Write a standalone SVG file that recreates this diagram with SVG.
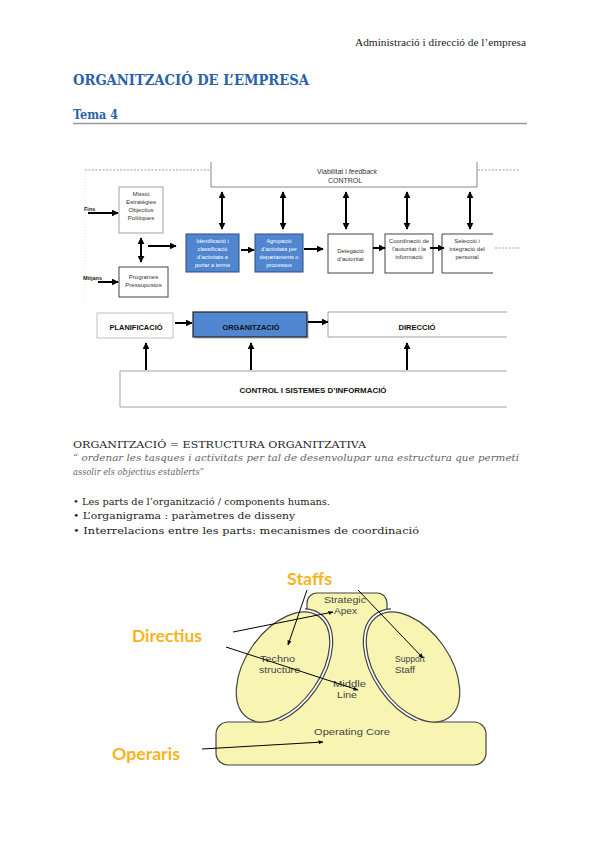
<svg xmlns="http://www.w3.org/2000/svg" width="599" height="848" viewBox="0 0 599 848">
<style>
.hdr{font-family:"Liberation Serif","Times New Roman",serif;font-size:10.5px;fill:#222}
.ttl{font-family:"DejaVu Serif","Liberation Serif",serif;font-weight:bold;fill:#2a62a8}
.body{font-family:"DejaVu Serif","Liberation Serif",serif;font-size:10px;fill:#222}
.quote{font-family:"DejaVu Serif","Liberation Serif",serif;font-size:9px;font-style:italic;fill:#666}
.t6{font-family:"Liberation Sans",Arial,sans-serif;font-size:6px;fill:#333;text-anchor:middle}
.t6w{font-family:"Liberation Sans",Arial,sans-serif;font-size:5.6px;fill:#fff;text-anchor:middle}
.t7{font-family:"Liberation Sans",Arial,sans-serif;font-size:7px;fill:#333;text-anchor:middle}
.lb{font-family:"Liberation Sans",Arial,sans-serif;font-weight:bold;font-size:7px;fill:#111;text-anchor:middle}
.sm{font-family:"Liberation Sans",Arial,sans-serif;font-weight:bold;font-size:5.5px;fill:#222}
.box{fill:#fff;stroke:#999;stroke-width:0.9}
.boxd{fill:#fff;stroke:#444;stroke-width:1}
.blue{fill:#4f86cf;stroke:#2b4f80;stroke-width:1}
.arr{stroke:#000;stroke-width:2;fill:none}
.dash{stroke:#888;stroke-width:0.8;stroke-dasharray:2 1.5;fill:none}
.dg{font-family:"Liberation Sans",Arial,sans-serif;font-size:9px;fill:#444}
.yel{fill:#f8f5b2;stroke:#444;stroke-width:1.2}
.big{font-family:Lato,"Open Sans",sans-serif;font-weight:bold;font-size:17px;fill:#f6b41c}
.thin{stroke:#000;stroke-width:1;fill:none}
</style>
<defs>
<marker id="ah" viewBox="0 0 10 10" refX="9" refY="5" markerWidth="3.5" markerHeight="3.5" orient="auto-start-reverse"><path d="M0,0L10,5L0,10z" fill="#000"/></marker>
<marker id="ah2" viewBox="0 0 10 10" refX="9" refY="5" markerWidth="5" markerHeight="5" orient="auto"><path d="M0,1L10,5L0,9z" fill="#000"/></marker>
<clipPath id="mid"><polygon points="283,667 305,612 305,588 391,588 391,612 413,667 435,721 261,721"/></clipPath>
</defs>
<rect width="599" height="848" fill="#fff"/>

<g id="header">
<text class="hdr" x="355" y="46" textLength="171" lengthAdjust="spacingAndGlyphs">Administració i direcció de l’empresa</text>
<text class="ttl" x="73" y="85" font-size="14" textLength="236" lengthAdjust="spacingAndGlyphs">ORGANITZACIÓ DE L’EMPRESA</text>
<text class="ttl" x="73" y="119" font-size="12" textLength="45" lengthAdjust="spacingAndGlyphs">Tema 4</text>
<line x1="73" y1="123.5" x2="527" y2="123.5" stroke="#999" stroke-width="1.5"/>
</g>

<g id="frame-top">
<line class="dash" x1="85" y1="170" x2="211" y2="170"/>
<line class="dash" x1="478" y1="170" x2="520" y2="170"/>
<line x1="85" y1="173" x2="85" y2="300" stroke="#ddd" stroke-width="0.8" stroke-dasharray="1 2"/>
</g>

<g id="control-top">
<path d="M211,162V187H477V162" fill="none" stroke="#888" stroke-width="1"/>
<text class="t7" x="347" y="174">Viabilitat i <tspan font-style="italic">feedback</tspan></text>
<text class="t7" x="345" y="183">CONTROL</text>
</g>

<g id="missio">
<rect class="box" x="119" y="187" width="44" height="46"/>
<text class="t6" x="141" y="196">Missió</text>
<text class="t6" x="141" y="204">Estratègies</text>
<text class="t6" x="141" y="212">Objectius</text>
<text class="t6" x="141" y="220">Polítiques</text>
</g>
<g id="fins"><text class="sm" x="84" y="211">Fins</text></g>
<g id="mitjans"><text class="sm" x="83" y="280">Mitjans</text></g>
<g id="programes">
<rect class="boxd" x="119" y="267" width="49" height="30"/>
<text class="t6" x="143.5" y="279">Programes</text>
<text class="t6" x="143.5" y="287">Pressupostos</text>
</g>

<g id="identificacio">
<rect class="blue" x="186" y="234" width="53" height="38"/>
<text class="t6w" x="212.5" y="243">Identificació i</text>
<text class="t6w" x="212.5" y="251">classificació</text>
<text class="t6w" x="212.5" y="259">d’activitats a</text>
<text class="t6w" x="212.5" y="267">portar a terme</text>
</g>
<g id="agrupacio">
<rect class="blue" x="255" y="234" width="48" height="38"/>
<text class="t6w" x="279" y="243">Agrupació</text>
<text class="t6w" x="279" y="251">d’activitats per</text>
<text class="t6w" x="279" y="259">departaments o</text>
<text class="t6w" x="279" y="267">processos</text>
</g>
<g id="delegacio">
<rect class="boxd" x="328" y="234" width="45" height="39"/>
<text class="t6" x="350.5" y="253">Delegació</text>
<text class="t6" x="350.5" y="261">d’autoritat</text>
</g>
<g id="coordinacio">
<rect class="boxd" x="385" y="234" width="48" height="39"/>
<text class="t6" x="409" y="243">Coordinació de</text>
<text class="t6" x="409" y="251">l’autoritat i la</text>
<text class="t6" x="409" y="259">informació</text>
</g>
<g id="seleccio">
<path d="M493,234H442V273H493" fill="#fff" stroke="#444" stroke-width="1"/>
<text class="t6" x="467" y="243">Selecció i</text>
<text class="t6" x="467" y="251">integració del</text>
<text class="t6" x="467" y="259">personal</text>
<line class="dash" x1="495" y1="248" x2="520" y2="248"/>
</g>

<g id="planificacio">
<rect x="97" y="313" width="76" height="25" fill="#fff" stroke="#bbb" stroke-width="0.9"/>
<text class="lb" x="136" y="330" textLength="53" lengthAdjust="spacingAndGlyphs">PLANIFICACIÓ</text>
</g>
<g id="organitzacio">
<rect x="195" y="314" width="114" height="25" fill="#999" opacity="0.4"/>
<rect x="193" y="312" width="114" height="25" fill="#4f86cf" stroke="#222" stroke-width="1.2"/>
<text class="lb" x="251" y="330" textLength="57" lengthAdjust="spacingAndGlyphs">ORGANITZACIÓ</text>
</g>
<g id="direccio">
<path d="M507,312H328V337H507" fill="#fff" stroke="#999" stroke-width="0.9"/>
<text class="lb" x="417" y="330" textLength="37" lengthAdjust="spacingAndGlyphs">DIRECCIÓ</text>
</g>
<g id="control-sistemes">
<path d="M507,371H120V407H507" fill="#fff" stroke="#999" stroke-width="0.9"/>
<text class="lb" x="313" y="393" textLength="147" lengthAdjust="spacingAndGlyphs">CONTROL I SISTEMES D’INFORMACIÓ</text>
</g>

<g id="connectors-top">
<line class="arr" x1="88" y1="213" x2="118" y2="213" marker-end="url(#ah)"/>
<line class="arr" x1="98" y1="282" x2="118" y2="282" marker-end="url(#ah)"/>
<line class="arr" x1="141" y1="238" x2="141" y2="262" marker-start="url(#ah)" marker-end="url(#ah)"/>
<line class="arr" x1="148" y1="246" x2="176" y2="246" marker-end="url(#ah)"/>
<line class="arr" x1="241" y1="250" x2="254" y2="250" marker-end="url(#ah)"/>
<line class="arr" x1="304" y1="249" x2="323" y2="249" marker-end="url(#ah)"/>
<line class="arr" x1="373" y1="248" x2="385" y2="248" marker-end="url(#ah)"/>
<line class="arr" x1="430" y1="248" x2="444" y2="248" marker-end="url(#ah)"/>
<line class="arr" x1="222" y1="192" x2="222" y2="229" marker-start="url(#ah)" marker-end="url(#ah)"/>
<line class="arr" x1="283" y1="192" x2="283" y2="229" marker-start="url(#ah)" marker-end="url(#ah)"/>
<line class="arr" x1="346" y1="192" x2="346" y2="229" marker-start="url(#ah)" marker-end="url(#ah)"/>
<line class="arr" x1="407" y1="192" x2="407" y2="229" marker-start="url(#ah)" marker-end="url(#ah)"/>
<line class="arr" x1="470" y1="192" x2="470" y2="229" marker-start="url(#ah)" marker-end="url(#ah)"/>
<line class="arr" x1="175" y1="323" x2="192" y2="323" marker-end="url(#ah)"/>
<line class="arr" x1="308" y1="322" x2="328" y2="322" marker-end="url(#ah)"/>
<line class="arr" x1="146" y1="370" x2="146" y2="343" marker-end="url(#ah)"/>
<line class="arr" x1="251" y1="370" x2="251" y2="343" marker-end="url(#ah)"/>
<line class="arr" x1="407" y1="370" x2="407" y2="343" marker-end="url(#ah)"/>
</g>

<g id="text-block">
<text class="body" x="73" y="448" textLength="293" lengthAdjust="spacingAndGlyphs">ORGANITZACIÓ = ESTRUCTURA ORGANITZATIVA</text>
<text class="quote" x="73" y="461" textLength="446" lengthAdjust="spacingAndGlyphs">“ ordenar les tasques i activitats per tal de desenvolupar una estructura que permeti</text>
<text class="quote" x="73" y="475" textLength="131" lengthAdjust="spacingAndGlyphs">assolir els objectius establerts”</text>
<text class="body" x="73" y="505" textLength="257" lengthAdjust="spacingAndGlyphs">• Les parts de l’organització / components humans.</text>
<text class="body" x="73" y="519" textLength="222" lengthAdjust="spacingAndGlyphs">• L’organigrama : paràmetres de disseny</text>
<text class="body" x="73" y="534" textLength="346" lengthAdjust="spacingAndGlyphs">• Interrelacions entre les parts: mecanismes de coordinació</text>
</g>

<g id="operating-core">
<rect class="yel" x="216" y="722" width="270" height="43" rx="12"/>
</g>
<g id="strategic-apex">
<rect class="yel" x="307" y="593" width="80" height="32" rx="10"/>
</g>
<g id="middle-line">
<polygon points="283,667 315,618 380,618 413,667 434,723.5 262,723.5" fill="#f8f5b2"/>
</g>
<g id="technostructure">
<g clip-path="url(#mid)">
<ellipse cx="283" cy="667" rx="62" ry="37" transform="rotate(-55 283 667)" fill="none" stroke="#444" stroke-width="7"/>
<ellipse cx="283" cy="667" rx="62" ry="37" transform="rotate(-55 283 667)" fill="none" stroke="#fff" stroke-width="4.6"/>
</g>
<ellipse class="yel" cx="283" cy="667" rx="62" ry="37" transform="rotate(-55 283 667)"/>
</g>
<g id="support-staff">
<g clip-path="url(#mid)">
<ellipse cx="413" cy="667" rx="62" ry="37" transform="rotate(55 413 667)" fill="none" stroke="#444" stroke-width="7"/>
<ellipse cx="413" cy="667" rx="62" ry="37" transform="rotate(55 413 667)" fill="none" stroke="#fff" stroke-width="4.6"/>
</g>
<ellipse class="yel" cx="413" cy="667" rx="62" ry="37" transform="rotate(55 413 667)"/>
</g>
<g id="diagram-labels">
<text class="dg" x="324" y="603" textLength="42" lengthAdjust="spacingAndGlyphs">Strategic</text>
<text class="dg" x="334" y="614" textLength="23" lengthAdjust="spacingAndGlyphs">Apex</text>
<text class="dg" x="260" y="662" textLength="35" lengthAdjust="spacingAndGlyphs">Techno</text>
<text class="dg" x="259" y="673" textLength="41" lengthAdjust="spacingAndGlyphs">structure</text>
<text class="dg" x="333" y="687" textLength="33" lengthAdjust="spacingAndGlyphs">Middle</text>
<text class="dg" x="337" y="698" textLength="20" lengthAdjust="spacingAndGlyphs">Line</text>
<text class="dg" x="395" y="662" textLength="30" lengthAdjust="spacingAndGlyphs">Support</text>
<text class="dg" x="395" y="673" textLength="20" lengthAdjust="spacingAndGlyphs">Staff</text>
<text class="dg" x="314" y="735" textLength="76" lengthAdjust="spacingAndGlyphs">Operating Core</text>
</g>
<g id="staffs"><text class="big" x="287" y="585" textLength="45" lengthAdjust="spacingAndGlyphs">Staffs</text></g>
<g id="directius"><text class="big" x="132" y="642" textLength="70" lengthAdjust="spacingAndGlyphs">Directius</text></g>
<g id="operaris"><text class="big" x="112" y="760" textLength="68" lengthAdjust="spacingAndGlyphs">Operaris</text></g>

<g id="connectors-bottom">
<line class="thin" x1="307" y1="590" x2="288" y2="645" marker-end="url(#ah2)"/>
<line class="thin" x1="358" y1="590" x2="423" y2="658" marker-end="url(#ah2)"/>
<line class="thin" x1="233" y1="632" x2="333" y2="612" marker-end="url(#ah2)"/>
<line class="thin" x1="226" y1="647" x2="358" y2="690" marker-end="url(#ah2)"/>
<line class="thin" x1="202" y1="749" x2="323" y2="742" marker-end="url(#ah2)"/>
</g>
</svg>
